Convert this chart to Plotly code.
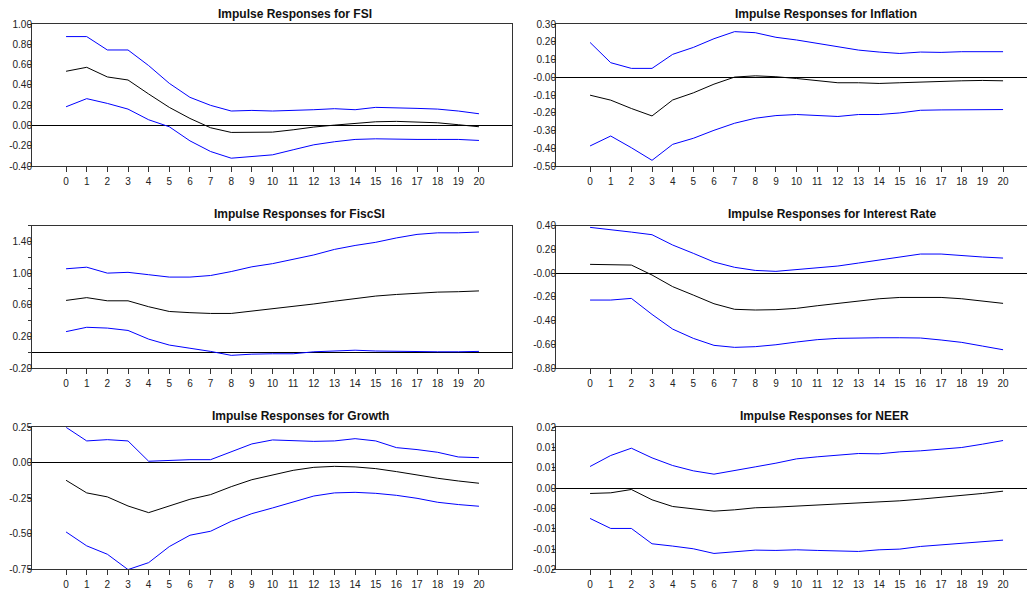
import plotly.graph_objects as go

horizon = list(range(21))

fsi_mid = [0.534, 0.573, 0.478, 0.448, 0.31, 0.178, 0.069, -0.023, -0.069, -0.069, -0.066, -0.043, -0.016, 0.003, 0.023, 0.036, 0.04, 0.036, 0.026, 0.007, -0.013]
fsi_up = [0.876, 0.876, 0.744, 0.744, 0.59, 0.415, 0.277, 0.198, 0.142, 0.148, 0.142, 0.145, 0.155, 0.165, 0.155, 0.178, 0.175, 0.168, 0.161, 0.142, 0.115]
fsi_lo = [0.184, 0.264, 0.217, 0.161, 0.056, -0.013, -0.152, -0.257, -0.323, -0.31, -0.29, -0.24, -0.191, -0.161, -0.138, -0.132, -0.138, -0.138, -0.138, -0.138, -0.148]

inf_mid = [-0.101, -0.129, -0.176, -0.218, -0.128, -0.088, -0.039, 0.001, 0.008, 0.003, -0.007, -0.02, -0.031, -0.031, -0.035, -0.031, -0.026, -0.024, -0.02, -0.018, -0.02]
inf_up = [0.196, 0.082, 0.05, 0.05, 0.129, 0.168, 0.217, 0.257, 0.251, 0.225, 0.21, 0.191, 0.168, 0.153, 0.142, 0.134, 0.142, 0.14, 0.144, 0.146, 0.144]
inf_lo = [-0.387, -0.331, -0.397, -0.468, -0.378, -0.344, -0.299, -0.259, -0.231, -0.216, -0.21, -0.216, -0.221, -0.21, -0.21, -0.201, -0.186, -0.184, -0.184, -0.182, -0.182]

fisc_mid = [0.655, 0.69, 0.65, 0.65, 0.575, 0.515, 0.50, 0.49, 0.49, 0.52, 0.545, 0.575, 0.61, 0.645, 0.68, 0.71, 0.73, 0.745, 0.76, 0.765, 0.775]
fisc_up = [1.055, 1.075, 1.0, 1.01, 0.98, 0.95, 0.95, 0.97, 1.02, 1.08, 1.12, 1.175, 1.23, 1.30, 1.35, 1.39, 1.445, 1.49, 1.51, 1.51, 1.52]
fisc_lo = [0.26, 0.315, 0.305, 0.275, 0.165, 0.09, 0.05, 0.01, -0.04, -0.025, -0.02, -0.02, 0.005, 0.015, 0.025, 0.015, 0.01, 0.01, 0.005, 0.005, 0.01]

ir_mid = [0.074, 0.074, 0.068, -0.016, -0.114, -0.185, -0.258, -0.305, -0.311, -0.308, -0.297, -0.275, -0.255, -0.236, -0.216, -0.205, -0.202, -0.205, -0.216, -0.233, -0.255]
ir_up = [0.386, 0.369, 0.346, 0.324, 0.237, 0.167, 0.094, 0.049, 0.023, 0.015, 0.029, 0.043, 0.06, 0.085, 0.11, 0.136, 0.161, 0.161, 0.147, 0.136, 0.127]
ir_lo = [-0.227, -0.227, -0.213, -0.348, -0.472, -0.55, -0.609, -0.626, -0.62, -0.604, -0.581, -0.561, -0.55, -0.545, -0.545, -0.545, -0.547, -0.564, -0.584, -0.615, -0.646]

gr_mid = [-0.123, -0.212, -0.24, -0.304, -0.351, -0.304, -0.257, -0.224, -0.168, -0.119, -0.086, -0.053, -0.032, -0.025, -0.029, -0.041, -0.062, -0.086, -0.109, -0.128, -0.144]
gr_up = [0.25, 0.154, 0.163, 0.154, 0.011, 0.018, 0.022, 0.022, 0.076, 0.133, 0.161, 0.156, 0.151, 0.154, 0.17, 0.154, 0.107, 0.093, 0.074, 0.041, 0.036]
gr_lo = [-0.487, -0.585, -0.644, -0.752, -0.703, -0.59, -0.51, -0.482, -0.412, -0.358, -0.318, -0.278, -0.234, -0.212, -0.208, -0.215, -0.229, -0.25, -0.278, -0.294, -0.306]

neer_mid = [-0.00131, -0.00115, -0.00033, -0.00287, -0.00452, -0.00517, -0.00567, -0.00534, -0.00484, -0.00468, -0.00443, -0.00419, -0.00402, -0.00378, -0.00345, -0.00312, -0.00271, -0.0023, -0.00181, -0.00131, -0.00074]
neer_up = [0.00534, 0.00805, 0.00985, 0.00747, 0.00558, 0.00427, 0.00345, 0.00427, 0.00525, 0.00616, 0.00722, 0.00772, 0.00805, 0.00854, 0.00846, 0.00895, 0.0092, 0.00952, 0.01002, 0.01084, 0.01174]
neer_lo = [-0.00747, -0.00993, -0.00993, -0.01371, -0.01428, -0.01494, -0.01609, -0.01576, -0.01527, -0.01535, -0.01519, -0.01535, -0.01552, -0.0156, -0.01519, -0.01502, -0.01437, -0.01396, -0.01346, -0.01322, -0.01281]

titles = ["Impulse Responses for FSI", "Impulse Responses for Inflation",
          "Impulse Responses for FiscSI", "Impulse Responses for Interest Rate",
          "Impulse Responses for Growth", "Impulse Responses for NEER"]

ytickvals = [
    [1.0, 0.8, 0.6, 0.4, 0.2, 0.0, -0.2, -0.4],
    [0.3, 0.2, 0.1, 0.0, -0.1, -0.2, -0.3, -0.4, -0.5],
    [1.6, 1.4, 1.2, 1.0, 0.8, 0.6, 0.4, 0.2, 0.0, -0.2],
    [0.4, 0.2, 0.0, -0.2, -0.4, -0.6, -0.8],
    [0.25, 0.0, -0.25, -0.5, -0.75],
    [0.015, 0.01, 0.005, 0.0, -0.005, -0.01, -0.015, -0.02],
]
yticktext = [
    ["1.00", "0.80", "0.60", "0.40", "0.20", "0.00", "-0.20", "-0.40"],
    ["0.30", "0.20", "0.10", "-0.00", "-0.10", "-0.20", "-0.30", "-0.40", "-0.50"],
    ["", "1.40", "", "1.00", "", "0.60", "", "0.20", "", "-0.20"],
    ["0.40", "0.20", "-0.00", "-0.20", "-0.40", "-0.60", "-0.80"],
    ["0.25", "0.00", "-0.25", "-0.50", "-0.75"],
    ["0.02", "0.01", "0.01", "0.00", "-0.00", "-0.01", "-0.01", "-0.02"],
]
yranges = [[-0.4, 1.0], [-0.5, 0.3], [-0.2, 1.6], [-0.8, 0.4], [-0.75, 0.25], [-0.02, 0.015]]

series = [(fsi_mid, fsi_up, fsi_lo), (inf_mid, inf_up, inf_lo),
          (fisc_mid, fisc_up, fisc_lo), (ir_mid, ir_up, ir_lo),
          (gr_mid, gr_up, gr_lo), (neer_mid, neer_up, neer_lo)]

W, H = 1027, 591
xdom = [[32 / W, 512 / W], [556 / W, 1.0]]
xrng = [[-1.65, 21.6], [-1.65, 21.16]]
ypix = [(24, 166), (225.7, 368), (427.3, 569.3)]
title_x = [295, 826, 299, 832, 300, 824]
title_y = [14, 214, 416]

fig = go.Figure()
annotations = []
for i in range(6):
    r, c = divmod(i, 2)
    n = i + 1
    xa = "x" if n == 1 else f"x{n}"
    ya = "y" if n == 1 else f"y{n}"
    mid, up, lo = series[i]
    for vals, col in ((up, "#0000FF"), (lo, "#0000FF"), (mid, "#000000")):
        fig.add_trace(go.Scatter(x=horizon, y=vals, mode="lines",
                                 line=dict(color=col, width=1),
                                 xaxis=xa, yaxis=ya, showlegend=False,
                                 hoverinfo="skip"))
    top, bot = ypix[r]
    fig.layout[("xaxis" if n == 1 else f"xaxis{n}")] = dict(
        domain=xdom[c], range=xrng[c], anchor=ya, automargin=False,
        tickmode="array", tickvals=horizon, ticktext=[str(h) for h in horizon],
        ticks="outside", ticklen=5, tickcolor="#333", tickwidth=1,
        showline=True, linecolor="#333", linewidth=1, mirror=True,
        showgrid=False, zeroline=False, ticklabelstandoff=1,
        tickfont=dict(family="Liberation Sans, Arial", size=10, color="#222"),
        fixedrange=True,
    )
    fig.layout[("yaxis" if n == 1 else f"yaxis{n}")] = dict(
        domain=[1 - bot / H, 1 - top / H], range=yranges[i], anchor=xa, automargin=False,
        tickmode="array", tickvals=ytickvals[i], ticktext=yticktext[i],
        ticks="outside", ticklen=3, tickcolor="#333", tickwidth=1,
        showline=True, linecolor="#333", linewidth=1, mirror=(c == 0),
        showgrid=False, zeroline=True, zerolinecolor="#000", zerolinewidth=1,
        ticklabelstandoff=-6,
        tickfont=dict(family="Liberation Sans, Arial", size=10, color="#222"),
        fixedrange=True,
    )
    annotations.append(dict(text="<b>" + titles[i] + "</b>", x=title_x[i] / W,
                            y=1 - title_y[r] / H, xref="paper", yref="paper",
                            xanchor="center", yanchor="middle", showarrow=False,
                            font=dict(family="Liberation Sans, Arial", size=12, color="#111")))

fig.update_layout(template="none", width=W, height=H, autosize=False,
                  margin=dict(l=0, r=0, t=0, b=0, pad=0),
                  paper_bgcolor="white", plot_bgcolor="white",
                  annotations=annotations)
fig.write_html("out.html")
